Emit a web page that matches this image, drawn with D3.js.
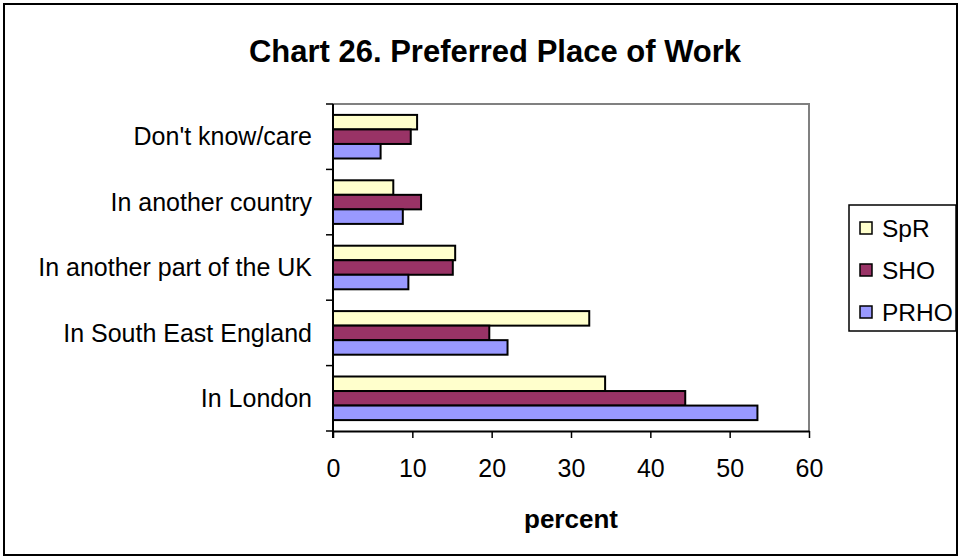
<!DOCTYPE html>
<html>
<head>
<meta charset="utf-8">
<script src="https://cdn.jsdelivr.net/npm/d3@7"></script>
<style>
  html, body { margin: 0; padding: 0; background: #fff; }
  svg { display: block; font-family: "Liberation Sans", Arial, sans-serif; }
</style>
</head>
<body>
<svg id="chart" width="962" height="558"></svg>
<script>
// Preferred place of work, percent of respondents by grade
const categories = ["Don't know/care", "In another country", "In another part of the UK", "In South East England", "In London"];
const seriesNames = ["SpR", "SHO", "PRHO"];
const sprValues  = [10.6, 7.6, 15.4, 32.3, 34.3];
const shoValues  = [9.8, 11.1, 15.1, 19.7, 44.4];
const prhoValues = [6.0, 8.8, 9.5, 22.0, 53.5];
const xTicks = [0, 10, 20, 30, 40, 50, 60];

const colors = { SpR: "#FFFFCC", SHO: "#993366", PRHO: "#9999FF" };
const seriesValues = { SpR: sprValues, SHO: shoValues, PRHO: prhoValues };

const svg = d3.select("#chart");
const plot = { left: 333, right: 809, top: 104, bottom: 431 };

// outer frame
svg.append("rect")
  .attr("x", 4).attr("y", 4).attr("width", 953).attr("height", 551)
  .attr("fill", "#fff").attr("stroke", "#000").attr("stroke-width", 2);

// title
svg.append("text")
  .attr("x", 495).attr("y", 62)
  .attr("text-anchor", "middle")
  .attr("font-size", 31).attr("font-weight", "bold")
  .text("Chart 26. Preferred Place of Work");

const x = d3.scaleLinear().domain([0, 60]).range([plot.left, plot.right]);
const y = d3.scaleBand().domain(categories).range([plot.top, plot.bottom]).paddingInner(0).paddingOuter(0);

// bars fill bandwidth with a 150% gap
const barH = y.bandwidth() / 4.5;
const inner = d3.scaleBand().domain(seriesNames).range([0, barH * 3]);
const groupOffset = (y.bandwidth() - barH * 3) / 2;

// plot area border: grey top and right edges
svg.append("path")
  .attr("d", `M${plot.left},${plot.top}H${plot.right}V${plot.bottom}`)
  .attr("fill", "none").attr("stroke", "#808080").attr("stroke-width", 2);

const rows = [];
categories.forEach((c, i) => {
  seriesNames.forEach(s => rows.push({ cat: c, series: s, value: seriesValues[s][i] }));
});

svg.append("g").selectAll("rect")
  .data(rows)
  .join("rect")
  .attr("x", x(0))
  .attr("y", d => y(d.cat) + groupOffset + inner(d.series))
  .attr("width", d => x(d.value) - x(0))
  .attr("height", inner.bandwidth())
  .attr("fill", d => colors[d.series])
  .attr("stroke", "#000")
  .attr("stroke-width", 2);

// x axis
const xAxis = svg.append("g")
  .attr("transform", `translate(0,${plot.bottom})`)
  .call(d3.axisBottom(x).tickValues(xTicks).tickSize(7).tickSizeOuter(0).tickPadding(21));
xAxis.select(".domain").attr("stroke", "#000").attr("stroke-width", 2);
xAxis.selectAll(".tick line").attr("stroke", "#000").attr("stroke-width", 1.5);
xAxis.selectAll(".tick text")
  .attr("font-size", 25).attr("fill", "#000")
  .attr("font-family", "'Liberation Sans', Arial, sans-serif");

// y axis: ticks sit on category boundaries
const yAxis = svg.append("g")
  .attr("transform", `translate(${plot.left},0)`);
yAxis.append("line")
  .attr("x1", 0).attr("x2", 0).attr("y1", plot.top).attr("y2", plot.bottom + 7)
  .attr("stroke", "#000").attr("stroke-width", 2);
const boundaries = categories.map(c => y(c)).concat([plot.bottom]);
yAxis.selectAll("line.tk")
  .data(boundaries)
  .join("line")
  .attr("class", "tk")
  .attr("x1", -7).attr("x2", 0)
  .attr("y1", d => d).attr("y2", d => d)
  .attr("stroke", "#000").attr("stroke-width", 1.5);
yAxis.selectAll("text")
  .data(categories)
  .join("text")
  .attr("x", -21)
  .attr("y", d => y(d) + y.bandwidth() / 2)
  .attr("dy", "0.35em")
  .attr("text-anchor", "end")
  .attr("font-size", 25)
  .text(d => d);

// x axis title
svg.append("text")
  .attr("x", (plot.left + plot.right) / 2).attr("y", 528)
  .attr("text-anchor", "middle")
  .attr("font-size", 26).attr("font-weight", "bold")
  .text("percent");

// legend
const legend = svg.append("g");
legend.append("rect")
  .attr("x", 849).attr("y", 205).attr("width", 107).attr("height", 126)
  .attr("fill", "#fff").attr("stroke", "#000").attr("stroke-width", 1.5);
const items = legend.selectAll("g.item")
  .data(seriesNames)
  .join("g")
  .attr("class", "item")
  .attr("transform", (d, i) => `translate(860,${222 + i * 42})`);
items.append("rect")
  .attr("width", 12).attr("height", 12)
  .attr("fill", d => colors[d])
  .attr("stroke", "#000").attr("stroke-width", 1.5);
items.append("text")
  .attr("x", 22).attr("y", 6).attr("dy", "0.35em")
  .attr("font-size", 24.5)
  .text(d => d);
</script>
</body>
</html>
